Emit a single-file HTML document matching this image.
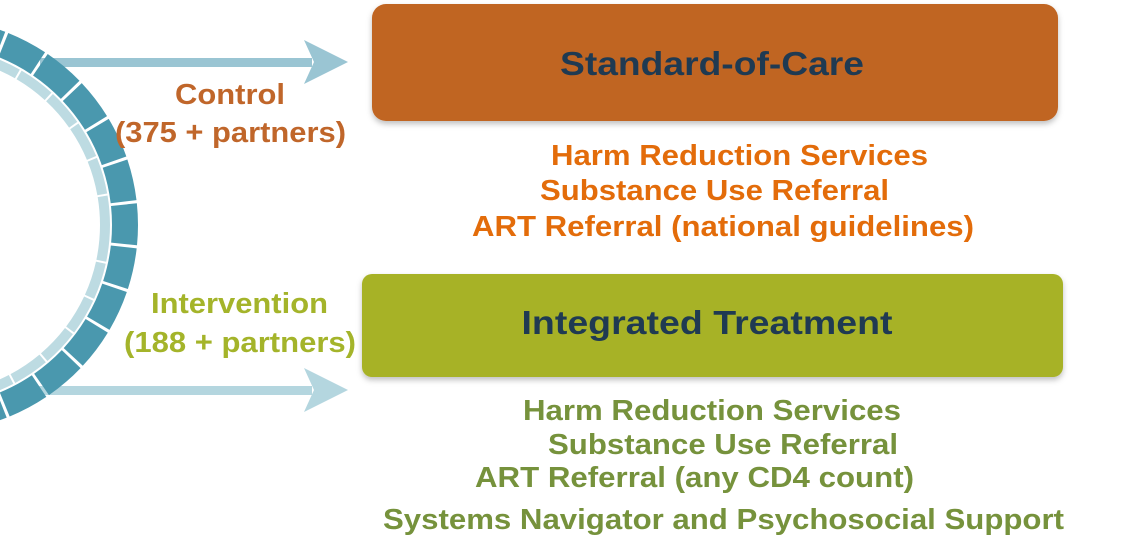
<!DOCTYPE html>
<html><head><meta charset="utf-8"><style>
html,body{margin:0;padding:0;background:#fff;width:1128px;height:556px;overflow:hidden}
svg{display:block}
text{font-family:"Liberation Sans",Arial,sans-serif;font-weight:bold}
</style></head><body>
<svg width="1128" height="556" viewBox="0 0 1128 556" xmlns="http://www.w3.org/2000/svg">
<defs>
<filter id="sh" x="-5%" y="-10%" width="110%" height="130%"><feDropShadow dx="0" dy="3" stdDeviation="3" flood-color="#000" flood-opacity="0.25"/></filter>
</defs>
<rect x="40" y="58" width="272" height="9" fill="#9ac5d3"/>
<polygon points="304,40 348,62 304,84 314,62" fill="#9ac5d3"/>
<rect x="30" y="386" width="282" height="9" fill="#b4d6df"/>
<polygon points="304,368 348,390 304,412 314,390" fill="#b4d6df"/>
<circle cx="-69" cy="225" r="174" fill="none" stroke="#bddbe2" stroke-width="10" stroke-dasharray="36 2"/>
<circle cx="-69" cy="225" r="194" fill="none" stroke="#4a98ae" stroke-width="26" stroke-dasharray="39 3" stroke-dashoffset="20"/>
<rect x="372" y="4" width="686" height="117" rx="14" fill="#c06522" filter="url(#sh)"/>
<rect x="362" y="274" width="701" height="103" rx="10" fill="#a7b225" filter="url(#sh)"/>
<text x="712" y="75" text-anchor="middle" font-size="33" fill="#1f3a52" textLength="304" lengthAdjust="spacingAndGlyphs">Standard-of-Care</text>
<text x="707" y="334" text-anchor="middle" font-size="33" fill="#1f3a52" textLength="371" lengthAdjust="spacingAndGlyphs">Integrated Treatment</text>
<g fill="#c0662a" font-size="29">
<text x="175" y="104" textLength="110" lengthAdjust="spacingAndGlyphs">Control</text>
<text x="115" y="142" textLength="231" lengthAdjust="spacingAndGlyphs">(375 + partners)</text>
</g>
<g fill="#a4b42a" font-size="29">
<text x="151" y="313" textLength="177" lengthAdjust="spacingAndGlyphs">Intervention</text>
<text x="124" y="352" textLength="232" lengthAdjust="spacingAndGlyphs">(188 + partners)</text>
</g>
<g fill="#e36c0a" font-size="29">
<text x="551" y="165" textLength="377" lengthAdjust="spacingAndGlyphs">Harm Reduction Services</text>
<text x="540" y="200" textLength="349" lengthAdjust="spacingAndGlyphs">Substance Use Referral</text>
<text x="472" y="236" textLength="502" lengthAdjust="spacingAndGlyphs">ART Referral (national guidelines)</text>
</g>
<g fill="#76923c" font-size="29">
<text x="523" y="420" textLength="378" lengthAdjust="spacingAndGlyphs">Harm Reduction Services</text>
<text x="548" y="454" textLength="350" lengthAdjust="spacingAndGlyphs">Substance Use Referral</text>
<text x="475" y="487" textLength="439" lengthAdjust="spacingAndGlyphs">ART Referral (any CD4 count)</text>
<text x="383" y="529" textLength="681" lengthAdjust="spacingAndGlyphs">Systems Navigator and Psychosocial Support</text>
</g>
</svg>
</body></html>
